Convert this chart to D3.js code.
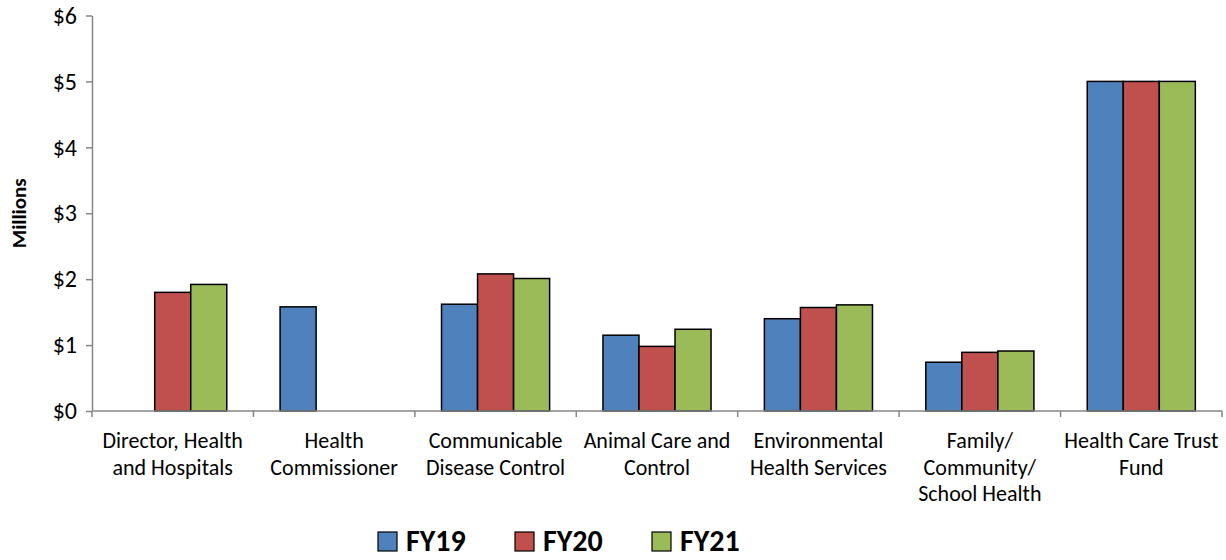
<!DOCTYPE html>
<html>
<head>
<meta charset="utf-8">
<script src="https://cdn.jsdelivr.net/npm/d3@7"></script>
<style>
  html, body { margin: 0; padding: 0; background: #fff; }
  svg { display: block; font-family: Carlito, Calibri, Lato, "Open Sans", sans-serif; }
</style>
</head>
<body>
<svg id="chart" width="1226" height="560"></svg>
<script>
// Budget by division, in millions of dollars
const categories = [
  ["Director, Health", "and Hospitals"],
  ["Health", "Commissioner"],
  ["Communicable", "Disease Control"],
  ["Animal Care and", "Control"],
  ["Environmental", "Health Services"],
  ["Family/", "Community/", "School Health"],
  ["Health Care Trust", "Fund"]
];
const seriesNames = ["FY19", "FY20", "FY21"];
const fy19 = [0, 1.58, 1.62, 1.15, 1.40, 0.74, 5.0];
const fy20 = [1.80, 0, 2.08, 0.98, 1.57, 0.89, 5.0];
const fy21 = [1.92, 0, 2.01, 1.24, 1.61, 0.91, 5.0];
const yTicks = [0, 1, 2, 3, 4, 5, 6];
const colors = ["#4F81BD", "#C0504D", "#9BBB59"];

const series = [fy19, fy20, fy21];
const svg = d3.select("#chart");
const plot = { left: 92, right: 1222, top: 15.5, bottom: 411 };

const catKeys = categories.map((_, i) => i);
const x0 = d3.scaleBand().domain(catKeys).range([plot.left, plot.right]).paddingInner(0).paddingOuter(0);
const groupWidth = x0.bandwidth() * (3 / 4.48);
const x1 = d3.scaleBand().domain(seriesNames).range([0, groupWidth]).padding(0);
const y = d3.scaleLinear().domain([0, 6]).range([plot.bottom, plot.top]);

const axisColor = "#868686";

// Bars
const groups = svg.append("g").selectAll("g")
  .data(catKeys)
  .join("g")
  .attr("transform", i => `translate(${x0(i) + (x0.bandwidth() - groupWidth) / 2},0)`);

groups.selectAll("rect")
  .data(i => series.map((s, k) => ({ k, v: s[i] })).filter(d => d.v > 0))
  .join("rect")
  .attr("x", d => x1(seriesNames[d.k]))
  .attr("width", x1.bandwidth())
  .attr("y", d => y(d.v))
  .attr("height", d => y(0) - y(d.v))
  .attr("fill", d => colors[d.k])
  .attr("stroke", "#000")
  .attr("stroke-width", 1.5);

// Y axis
const yAxis = svg.append("g")
  .attr("transform", `translate(${plot.left},0)`)
  .call(d3.axisLeft(y).tickValues(yTicks).tickSize(6).tickSizeOuter(0).tickPadding(9)
    .tickFormat(d => "$" + d));
yAxis.select(".domain").attr("stroke", axisColor).attr("stroke-width", 1.5);
yAxis.selectAll(".tick line").attr("stroke", axisColor).attr("stroke-width", 1.5);
yAxis.selectAll(".tick text").attr("font-size", 24).attr("fill", "#000")
  .attr("font-family", "Carlito, Calibri, Lato, sans-serif");

// X axis line and category separators
const xAxis = svg.append("g");
xAxis.append("line")
  .attr("x1", plot.left).attr("x2", plot.right)
  .attr("y1", plot.bottom).attr("y2", plot.bottom)
  .attr("stroke", axisColor).attr("stroke-width", 1.5);
const sepPositions = catKeys.map(i => x0(i)).concat([plot.right]);
xAxis.selectAll("line.sep")
  .data(sepPositions)
  .join("line")
  .attr("class", "sep")
  .attr("x1", d => d).attr("x2", d => d)
  .attr("y1", plot.bottom).attr("y2", plot.bottom + 6)
  .attr("stroke", axisColor).attr("stroke-width", 1.5);

// Category labels
const labels = svg.append("g").selectAll("text")
  .data(catKeys)
  .join("text")
  .attr("x", i => x0(i) + x0.bandwidth() / 2)
  .attr("y", 448)
  .attr("text-anchor", "middle")
  .attr("font-size", 22)
  .attr("fill", "#000");
labels.selectAll("tspan")
  .data(i => categories[i].map((t, j) => ({ t, j, i })))
  .join("tspan")
  .attr("x", d => x0(d.i) + x0.bandwidth() / 2)
  .attr("dy", d => d.j === 0 ? 0 : 26.5)
  .text(d => d.t);

// Y axis title
svg.append("text")
  .attr("transform", `translate(26,${(plot.top + plot.bottom) / 2}) rotate(-90)`)
  .attr("text-anchor", "middle")
  .attr("font-size", 21)
  .attr("font-weight", "bold")
  .text("Millions");

// Legend
const legendX = [378, 515, 652];
const legend = svg.append("g").selectAll("g")
  .data(seriesNames)
  .join("g")
  .attr("transform", (d, i) => `translate(${legendX[i]},532)`);
legend.append("rect")
  .attr("width", 19).attr("height", 19)
  .attr("fill", (d, i) => colors[i])
  .attr("stroke", "#000").attr("stroke-width", 1.2);
legend.append("text")
  .attr("x", 28).attr("y", 19)
  .attr("font-size", 30)
  .attr("font-weight", "bold")
  .text(d => d);
</script>
</body>
</html>
